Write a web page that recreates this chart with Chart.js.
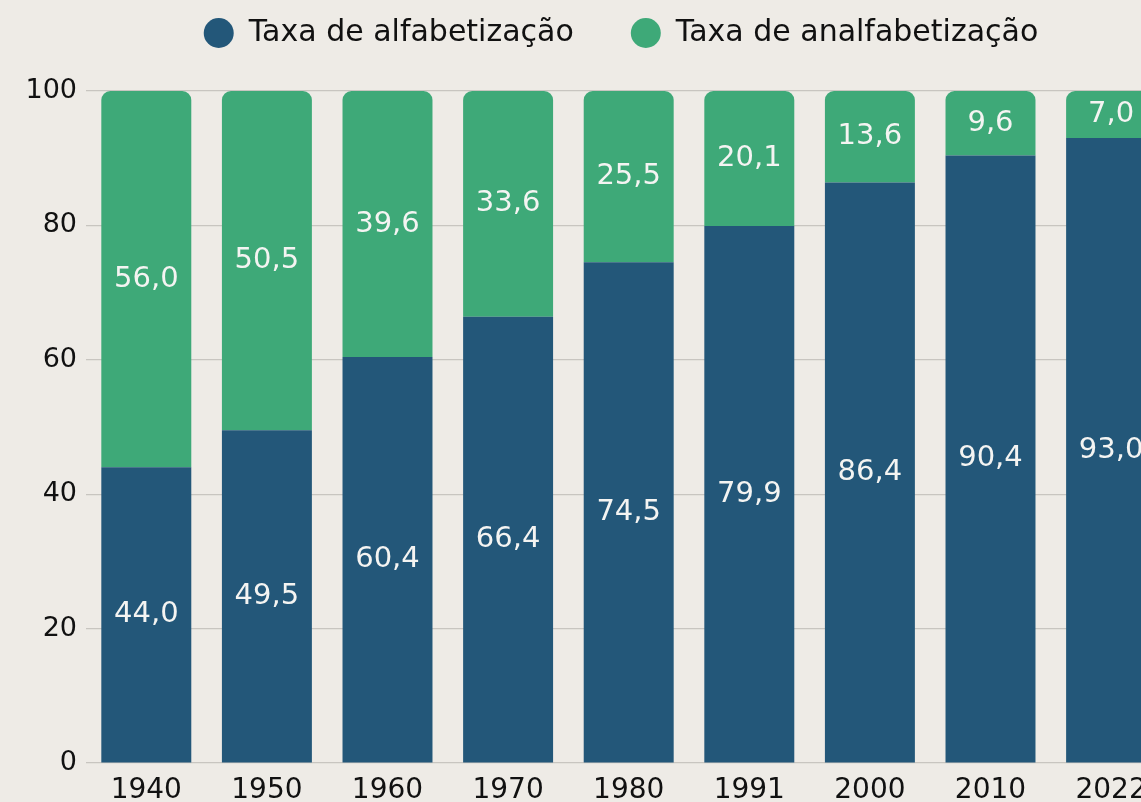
<!DOCTYPE html>
<html>
<head>
<meta charset="utf-8">
<script src="https://cdn.jsdelivr.net/npm/chart.js@4"></script>
<style>
  html, body { margin: 0; padding: 0; overflow: hidden; background: #EEEBE6; }
  canvas { display: block; }
</style>
</head>
<body>
<canvas id="grafico" width="1250" height="810"></canvas>
<script>
const anos = ["1940", "1950", "1960", "1970", "1980", "1991", "2000", "2010", "2022"];
const alfabetizacao = [44.0, 49.5, 60.4, 66.4, 74.5, 79.9, 86.4, 90.4, 93.0];
const analfabetizacao = [56.0, 50.5, 39.6, 33.6, 25.5, 20.1, 13.6, 9.6, 7.0];
const ticksY = [0, 20, 40, 60, 80, 100];

const fonte = "'DejaVu Sans', sans-serif";
const ctx = document.getElementById("grafico");

// rotulos brancos no meio de cada segmento
const rotulos = {
  id: "rotulos",
  afterDatasetsDraw(chart) {
    const c = chart.ctx;
    c.save();
    c.fillStyle = "#F4F4F2";
    c.font = "29px " + fonte;
    c.textAlign = "center";
    c.textBaseline = "middle";
    chart.data.datasets.forEach((ds, i) => {
      chart.getDatasetMeta(i).data.forEach((bar, j) => {
        const txt = ds.data[j].toFixed(1).replace(".", ",");
        c.fillText(txt, bar.x, (bar.y + bar.base) / 2);
      });
    });
    c.restore();
  }
};

// eixos vazios so para dar espaco (legenda centrada como no original)
const eixoVazio = {
  display: true,
  ticks: { display: false },
  grid: { display: false, drawTicks: false },
  border: { display: false }
};

new Chart(ctx, {
  type: "bar",
  data: {
    labels: anos,
    datasets: [
      {
        label: "Taxa de alfabetização",
        data: alfabetizacao,
        backgroundColor: "#235779",
        borderWidth: 0
      },
      {
        label: "Taxa de analfabetização",
        data: analfabetizacao,
        backgroundColor: "#3EA978",
        borderWidth: 0,
        borderRadius: { topLeft: 9, topRight: 9, bottomLeft: 0, bottomRight: 0 },
        borderSkipped: false
      }
    ]
  },
  options: {
    responsive: false,
    animation: false,
    barPercentage: 0.746,
    categoryPercentage: 1,
    layout: {
      padding: { left: 0, right: 8, top: -39, bottom: 7 }
    },
    plugins: {
      tooltip: { enabled: false },
      legend: {
        position: "top",
        labels: {
          usePointStyle: true,
          pointStyle: "circle",
          pointStyleWidth: 30,
          boxHeight: 21.2,
          padding: 57,
          color: "#111111",
          font: { family: fonte, size: 30 }
        }
      }
    },
    scales: {
      x: {
        stacked: true,
        grid: { display: false, drawTicks: false },
        border: { display: false },
        ticks: {
          color: "#111111",
          padding: 11,
          font: { family: fonte, size: 28 }
        },
        afterFit(scale) { scale.height = 40; }
      },
      xTopo: Object.assign({ type: "category", position: "top",
        afterFit(scale) { scale.height = 33; } }, eixoVazio),
      y: {
        stacked: true,
        min: 0,
        max: 100,
        afterBuildTicks(scale) { scale.ticks = ticksY.map(v => ({ value: v })); },
        grid: { color: "#C8C5C0", lineWidth: 1.2, drawTicks: false },
        border: { display: false },
        ticks: {
          color: "#111111",
          padding: 9,
          font: { family: fonte, size: 27 }
        },
        afterFit(scale) { scale.width = 86; }
      },
      yDir: Object.assign({ type: "linear", position: "right",
        afterFit(scale) { scale.width = 70.6; } }, eixoVazio)
    }
  },
  plugins: [rotulos]
});
</script>
</body>
</html>
